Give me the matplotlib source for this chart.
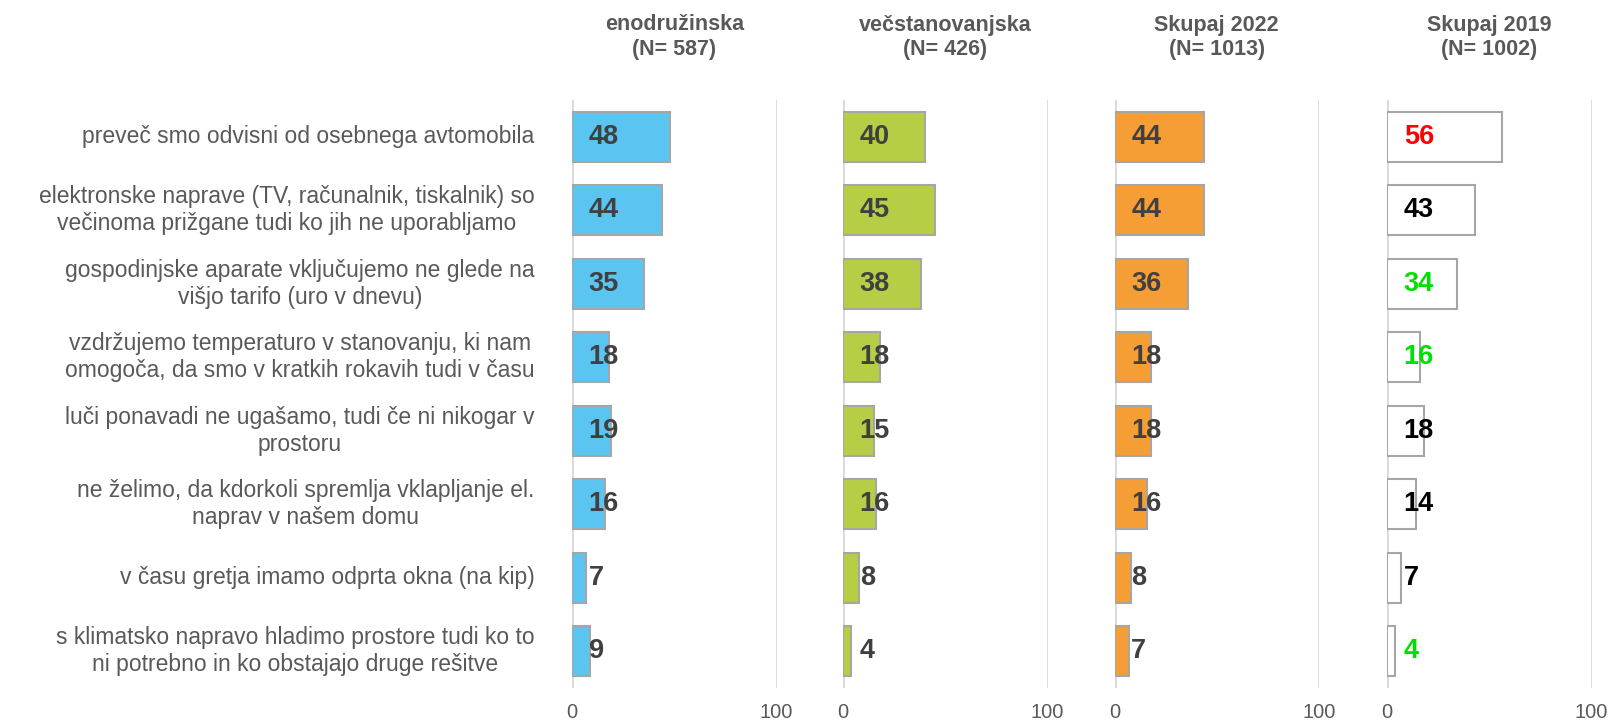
import numpy as np
import matplotlib.pyplot as plt

plt.rcParams['font.family'] = ['Liberation Sans', 'DejaVu Sans']

# podatki
categories = [
    "preveč smo odvisni od osebnega avtomobila",
    "elektronske naprave (TV, računalnik, tiskalnik) so\nvečinoma prižgane tudi ko jih ne uporabljamo",
    "gospodinjske aparate vključujemo ne glede na\nvišjo tarifo (uro v dnevu)",
    "vzdržujemo temperaturo v stanovanju, ki nam\nomogoča, da smo v kratkih rokavih tudi v času",
    "luči ponavadi ne ugašamo, tudi če ni nikogar v\nprostoru",
    "ne želimo, da kdorkoli spremlja vklapljanje el.\nnaprav v našem domu",
    "v času gretja imamo odprta okna (na kip)",
    "s klimatsko napravo hladimo prostore tudi ko to\nni potrebno in ko obstajajo druge rešitve",
]
titles = ["enodružinska\n(N= 587)", "večstanovanjska\n(N= 426)",
          "Skupaj 2022\n(N= 1013)", "Skupaj 2019\n(N= 1002)"]
enodruzinska = [48, 44, 35, 18, 19, 16, 7, 9]
vecstanovanjska = [40, 45, 38, 18, 15, 16, 8, 4]
skupaj_2022 = [44, 44, 36, 18, 18, 16, 8, 7]
skupaj_2019 = [56, 43, 34, 16, 18, 14, 7, 4]
xticks = [0, 100]

series = [enodruzinska, vecstanovanjska, skupaj_2022, skupaj_2019]
bar_colors = ['#5BC5F2', '#B5CE45', '#F59E36', 'white']
# barve oznak v zadnjem stolpcu (primerjava z 2022)
label_colors_2019 = ['#FF0000', '#000000', '#00E000', '#00E000',
                     '#000000', '#000000', '#000000', '#00E000']

W, H = 1612, 721
fig = plt.figure(figsize=(W / 100, H / 100), dpi=100)

x_lefts = [572, 843, 1114.5, 1387]
ax_w = 204.5
ax_top, ax_bot = 100, 688
y = np.arange(len(categories))

for i, (vals, x0) in enumerate(zip(series, x_lefts)):
    ax = fig.add_axes([x0 / W, (H - ax_bot) / H, ax_w / W, (ax_bot - ax_top) / H])
    ax.barh(y, vals, height=0.68, color=bar_colors[i], edgecolor='#A6A6A6',
            linewidth=1.5, zorder=3)
    ax.set_xlim(0, 100)
    ax.set_ylim(len(categories) - 0.5, -0.5)
    ax.set_xticks(xticks)
    ax.xaxis.grid(True, color='#D9D9D9', linewidth=2, zorder=0)
    ax.tick_params(axis='x', length=0, pad=11, labelsize=14.5, labelcolor='#595959')
    for s in ax.spines.values():
        s.set_visible(False)

    if i == 0:
        ax.set_yticks(y)
        ax.set_yticklabels(categories, multialignment='center', fontsize=16.5,
                           color='#595959', linespacing=1.2, va='center')
        ax.tick_params(axis='y', length=0, pad=27)
    else:
        ax.set_yticks([])

    for j, v in enumerate(vals):
        c = label_colors_2019[j] if i == 3 else '#404040'
        ax.annotate(str(v), xy=(0, j), xytext=(12, 0), textcoords='offset points',
                    ha='left', va='center', fontsize=19.5, fontweight='bold',
                    color=c, zorder=4)

    ax.annotate(titles[i], xy=(0.5, 1), xycoords='axes fraction',
                xytext=(0, 45), textcoords='offset points', ha='center',
                va='center', fontsize=15.5, fontweight='bold', color='#595959',
                linespacing=1.25)

fig.savefig("out.png", dpi=100)
